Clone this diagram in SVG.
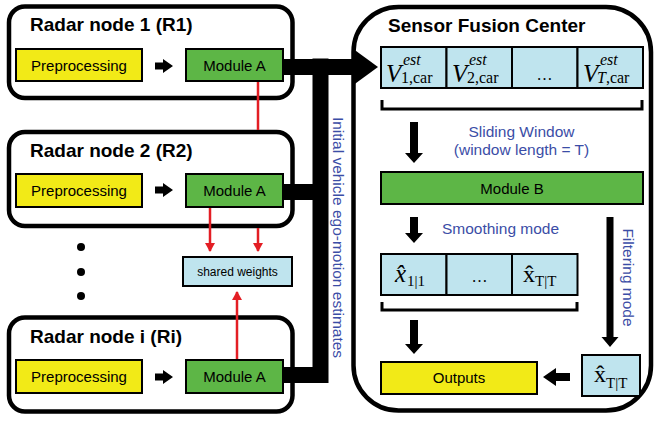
<svg xmlns="http://www.w3.org/2000/svg" width="654" height="422" viewBox="0 0 654 422">
<defs>
<style>
.node{fill:#fff;stroke:#000;stroke-width:4.5}
.yel{fill:#f2ea17;stroke:#000;stroke-width:2}
.grn{fill:#5db646;stroke:#000;stroke-width:2}
.blu{fill:#bfe4ee;stroke:#000;stroke-width:2}
.t{font-family:"Liberation Sans",Arial,sans-serif;font-size:15px;fill:#000;text-anchor:middle}
.ttl{font-family:"Liberation Sans",Arial,sans-serif;font-size:19px;font-weight:bold;fill:#000}
.lbl{font-family:"Liberation Sans",Arial,sans-serif;font-size:15.5px;fill:#3b4da6;text-anchor:middle}
.m{font-family:"Liberation Serif","Times New Roman",serif;fill:#000}
.red{stroke:#e31e24;stroke-width:2.5;fill:none}
.thick{stroke:#000;stroke-width:16;fill:none;stroke-linejoin:miter}
.br{stroke:#000;stroke-width:3;fill:none}
.ar{fill:#000}
</style>
<marker id="rh" markerWidth="10" markerHeight="10" refX="8" refY="5" orient="auto" markerUnits="userSpaceOnUse">
<path d="M0,0 L9,5 L0,10 Z" fill="#e31e24"/>
</marker>
</defs>
<rect width="654" height="422" fill="#fff"/>

<g id="radar1">
<rect class="node" x="9" y="6.5" width="283.5" height="91.5" rx="16"/>
<text class="ttl" x="30" y="31">Radar node 1 (R1)</text>
<rect class="yel" x="16" y="49" width="126" height="32"/>
<text class="t" x="79" y="71">Preprocessing</text>
<rect class="grn" x="186" y="49" width="97" height="32"/>
<text class="t" x="234.5" y="71">Module A</text>
</g>

<g id="radar2">
<rect class="node" x="9" y="132" width="283.5" height="94" rx="16"/>
<text class="ttl" x="30" y="157">Radar node 2 (R2)</text>
<rect class="yel" x="16" y="174" width="126" height="33"/>
<text class="t" x="79" y="196">Preprocessing</text>
<rect class="grn" x="186" y="174" width="97" height="33"/>
<text class="t" x="234.5" y="196">Module A</text>
</g>

<g id="dots">
<circle cx="81" cy="247" r="4"/>
<circle cx="81" cy="272" r="4"/>
<circle cx="81" cy="296" r="4"/>
</g>

<g id="shared">
<rect class="blu" x="183" y="257" width="109" height="29"/>
<text class="t" x="237.5" y="275.5" style="font-size:12px">shared weights</text>
</g>

<g id="radari">
<rect class="node" x="9" y="317.5" width="283.5" height="94" rx="16"/>
<text class="ttl" x="30" y="343">Radar node i (Ri)</text>
<rect class="yel" x="16" y="360" width="126" height="33"/>
<text class="t" x="79" y="382">Preprocessing</text>
<rect class="grn" x="186" y="360" width="97" height="33"/>
<text class="t" x="234.5" y="382">Module A</text>
</g>

<g id="fusion">
<rect class="node" x="353.5" y="7" width="297.5" height="403.5" rx="45"/>
<text class="ttl" x="388" y="32">Sensor Fusion Center</text>
</g>

<g id="vrow">
<rect class="blu" x="381" y="47" width="65.5" height="41"/>
<rect class="blu" x="446.5" y="47" width="65.5" height="41"/>
<rect class="blu" x="512" y="47" width="65.5" height="41"/>
<rect class="blu" x="577.5" y="47" width="65.5" height="41"/>
<text class="m" x="386" y="82" font-size="25" font-style="italic">V</text>
<text class="m" x="403" y="65" font-size="16" font-style="italic">est</text>
<text class="m" x="401" y="83" font-size="16">1,car</text>
<text class="m" x="452" y="82" font-size="25" font-style="italic">V</text>
<text class="m" x="469" y="65" font-size="16" font-style="italic">est</text>
<text class="m" x="467" y="83" font-size="16">2,car</text>
<text class="m" x="544.5" y="80" font-size="16" text-anchor="middle">…</text>
<text class="m" x="583" y="82" font-size="25" font-style="italic">V</text>
<text class="m" x="600" y="65" font-size="16" font-style="italic">est</text>
<text class="m" x="597" y="83" font-size="16"><tspan font-style="italic">T</tspan>,car</text>
</g>

<g id="moduleB">
<rect class="grn" x="381" y="172" width="262" height="32"/>
<text class="t" x="512" y="193.5">Module B</text>
</g>

<g id="xrow">
<rect class="blu" x="381" y="254" width="65.5" height="41"/>
<rect class="blu" x="446.5" y="254" width="65.5" height="41"/>
<rect class="blu" x="512" y="254" width="65.5" height="41"/>
<text class="m" x="395" y="282" font-size="25" font-style="italic">x̂</text>
<text class="m" x="407" y="286" font-size="15">1|1</text>
<text class="m" x="479.5" y="282" font-size="16" text-anchor="middle">…</text>
<text class="m" x="523" y="282" font-size="24">x̂</text>
<text class="m" x="535" y="286" font-size="15">T|T</text>
</g>

<g id="xTT">
<rect class="blu" x="582" y="355" width="58" height="41"/>
<text class="m" x="594" y="382" font-size="24">x̂</text>
<text class="m" x="606" y="388" font-size="15">T|T</text>
</g>

<g id="outputs">
<rect class="yel" x="381" y="362" width="156" height="32"/>
<text class="t" x="459" y="383">Outputs</text>
</g>

<g id="connectors">
<path class="thick" d="M283,67 H356"/>
<path class="thick" d="M283,375 H320.5 V58.5"/>
<path class="thick" d="M283,192 H320"/>
<polygon class="ar" points="352,48 378,67 352,86"/>
<text class="lbl" transform="translate(333,237.5) rotate(90)">Initial vehicle ego-motion estimates</text>
<line class="red" x1="258" y1="82" x2="258" y2="130"/>
<line class="red" x1="210" y1="208" x2="210" y2="251" marker-end="url(#rh)"/>
<line class="red" x1="258" y1="228" x2="258" y2="251" marker-end="url(#rh)"/>
<line class="red" x1="237" y1="359" x2="237" y2="292" marker-end="url(#rh)"/>
<polygon class="ar" points="155,62.5 163,62.5 163,59 173,66 163,73 163,69.5 155,69.5"/>
<polygon class="ar" points="155,186.5 163,186.5 163,183 173,190 163,197 163,193.5 155,193.5"/>
<polygon class="ar" points="155,373.5 163,373.5 163,370 173,377 163,384 163,380.5 155,380.5"/>
<polygon class="ar" points="410,122 418,122 418,153 423,153 414,163 405,153 410,153"/>
<polygon class="ar" points="410,217 418,217 418,233 423,233 414,243 405,233 410,233"/>
<polygon class="ar" points="410,320 418,320 418,344 423,344 414,354 405,344 410,344"/>
<polygon class="ar" points="606.5,217 613.5,217 613.5,337 618.5,337 610,347 601.5,337 606.5,337"/>
<polygon class="ar" points="570,373 556,373 556,368 543,377 556,386 556,381 570,381"/>
<path class="br" d="M382,100 V109 H642 V100"/>
<path class="br" d="M382,302 V310 H577 V302"/>
<text class="lbl" x="521.5" y="137">Sliding Window</text>
<text class="lbl" x="521.5" y="155">(window length = T)</text>
<text class="lbl" x="500.5" y="234">Smoothing mode</text>
<text class="lbl" transform="translate(623,277.5) rotate(90)">Filtering mode</text>
</g>
</svg>
